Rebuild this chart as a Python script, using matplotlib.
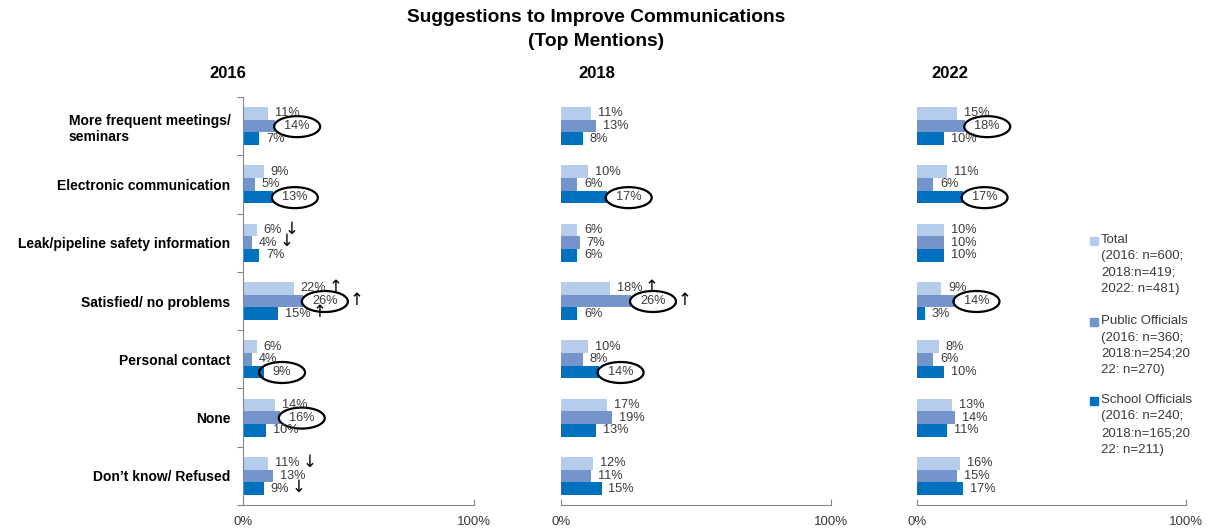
import numpy as np
import matplotlib
matplotlib.use("Agg")
import matplotlib.pyplot as plt
from matplotlib.patches import Ellipse, Rectangle
from matplotlib.transforms import ScaledTranslation

plt.rcParams['font.family'] = ['Liberation Sans', 'DejaVu Sans']

# categories, top to bottom
categories = [
    "More frequent meetings/\nseminars",
    "Electronic communication",
    "Leak/pipeline safety information",
    "Satisfied/ no problems",
    "Personal contact",
    "None",
    "Don\u2019t know/ Refused",
]
years = ["2016", "2018", "2022"]
series = ["Total", "Public Officials", "School Officials"]
colors = ["#b5cdea", "#7395cb", "#0071bf"]

total_2016 = [11, 9, 6, 22, 6, 14, 11]
public_2016 = [14, 5, 4, 26, 4, 16, 13]
school_2016 = [7, 13, 7, 15, 9, 10, 9]

total_2018 = [11, 10, 6, 18, 10, 17, 12]
public_2018 = [13, 6, 7, 26, 8, 19, 11]
school_2018 = [8, 17, 6, 6, 14, 13, 15]

total_2022 = [15, 11, 10, 9, 8, 13, 16]
public_2022 = [18, 6, 10, 14, 6, 14, 15]
school_2022 = [10, 17, 10, 3, 10, 11, 17]

values = {
    "2016": [total_2016, public_2016, school_2016],
    "2018": [total_2018, public_2018, school_2018],
    "2022": [total_2022, public_2022, school_2022],
}

# (series index, row) of the highlighted values
circled = {
    "2016": [(1, 0), (2, 1), (1, 3), (2, 4), (1, 5)],
    "2018": [(2, 1), (1, 3), (2, 4)],
    "2022": [(1, 0), (2, 1), (1, 3)],
}
# (series index, row, arrow) for significant changes
arrows = {
    "2016": [(0, 2, "\u2193"), (1, 2, "\u2193"), (0, 3, "\u2191"), (1, 3, "\u2191"),
             (2, 3, "\u2191"), (0, 6, "\u2193"), (2, 6, "\u2193")],
    "2018": [(0, 3, "\u2191"), (1, 3, "\u2191")],
    "2022": [],
}

legend_labels = [
    "Total\n(2016: n=600;\n2018:n=419;\n2022: n=481)",
    "Public Officials\n(2016: n=360;\n2018:n=254;20\n22: n=270)",
    "School Officials\n(2016: n=240;\n2018:n=165;20\n22: n=211)",
]

W, H = 1227, 531
fig = plt.figure(figsize=(W / 100, H / 100), dpi=100)

panels = [(243, 231), (561, 270), (917, 269)]
year_x = [228, 597, 950]
top_px, bot_px = 97, 505
bh = 0.218
fs = 9.2
grey = "#868686"
txt = "#3a3a3a"
ell_w, ell_h = 0.46, 0.21  # inches


def text_width(s):
    # rough width in points for digits and percent sign
    return sum(0.889 if c == "%" else 0.556 for c in s) * fs


rows = np.arange(len(categories))
for k, year in enumerate(years):
    x0, w = panels[k]
    ax = fig.add_axes([x0 / W, 1 - bot_px / H, w / W, (bot_px - top_px) / H])
    circ = set(circled[year])
    for s in range(3):
        ypos = rows + (s - 1) * bh
        ax.barh(ypos, values[year][s], height=bh, color=colors[s])
        for r, v in enumerate(values[year][s]):
            lab = f"{v}%"
            tw = text_width(lab)
            dx = 6.5 if (s, r) in circ else 5
            ax.annotate(lab, (v, ypos[r]), xytext=(dx, 0), textcoords="offset points",
                        ha="left", va="center", fontsize=fs, color=txt)
            if (s, r) in circ:
                tr = fig.dpi_scale_trans + ScaledTranslation(v, ypos[r], ax.transData)
                cx = (dx + tw / 2) / 72
                ax.add_patch(Ellipse((cx, -0.005), ell_w, ell_h, transform=tr,
                                     fill=False, ec="black", lw=1.6, clip_on=False))
    for s, r, a in arrows[year]:
        v = values[year][s][r]
        ypos = r + (s - 1) * bh
        tw = text_width(f"{v}%")
        if (s, r) in circ:
            ax_off = 6.5 + tw / 2 + ell_w * 72 / 2 + 1.5
        else:
            ax_off = 5 + tw + 1.5
        ax.annotate(a, (v, ypos), xytext=(ax_off, 1), textcoords="offset points",
                    ha="left", va="center", fontsize=12, color="black",
                    family="DejaVu Sans")

    ax.set_xlim(0, 100)
    ax.set_ylim(len(categories) - 0.5, -0.5)
    ax.set_xticks([0, 100], ["0%", "100%"])
    ax.tick_params(axis="x", direction="in", length=4, color=grey, labelcolor=txt,
                   labelsize=9.5, pad=8)
    for sp in ["top", "right"]:
        ax.spines[sp].set_visible(False)
    ax.spines["bottom"].set_color(grey)
    if k == 0:
        ax.spines["left"].set_color(grey)
        ax.set_yticks(np.arange(-0.5, len(categories)), [])
        ax.tick_params(axis="y", which="major", direction="out", length=4, color=grey)
        ax.set_yticks(rows, categories, minor=True)
        ax.tick_params(axis="y", which="minor", length=0, pad=9, labelsize=10)
        for lbl in ax.get_yticklabels(minor=True):
            lbl.set_fontweight("bold")
            lbl.set_multialignment("left")
    else:
        ax.spines["left"].set_visible(False)
        ax.set_yticks([])
    fig.text(year_x[k] / W, 1 - 74 / H, year, ha="center", va="center",
             fontsize=12, fontweight="bold")

fig.text(596 / W, 1 - 9 / H, "Suggestions to Improve Communications\n(Top Mentions)",
         ha="center", va="top", fontsize=13.8, fontweight="bold", linespacing=1.55)

# legend drawn by hand so the swatch sits beside the first line
leg_y = [241, 322, 401]
for i in range(3):
    y = leg_y[i]
    fig.patches.append(Rectangle((1090 / W, 1 - (y + 4) / H), 8 / W, 8 / H,
                                 transform=fig.transFigure, color=colors[i]))
    fig.text(1101 / W, 1 - (y - 7) / H, legend_labels[i], ha="left", va="top",
             fontsize=9.5, color=txt, linespacing=1.5)

fig.savefig("out.png", dpi=100)
